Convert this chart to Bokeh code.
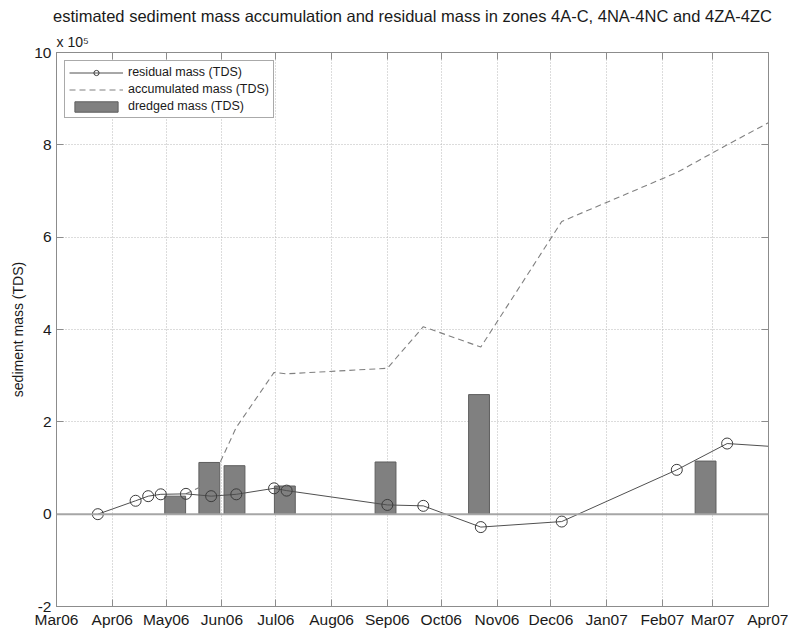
import datetime as dt
from bokeh.plotting import figure
from bokeh.models import (Range1d, LinearAxis, DatetimeAxis, MonthsTicker,
                          DatetimeTickFormatter, SingleIntervalTicker,
                          CustomJSTickFormatter, Legend, LegendItem, Span, Title)
from bokeh.embed import file_html
from bokeh.resources import INLINE

# ---------------- data ----------------
title_text = "estimated sediment mass accumulation and residual mass in zones 4A-C, 4NA-4NC and 4ZA-4ZC"
y_label = "sediment mass (TDS)"
exponent_text = "x 10\u2075"

residual_dates = ["2006-03-24", "2006-04-14", "2006-04-21", "2006-04-28", "2006-05-12",
                  "2006-05-26", "2006-06-09", "2006-06-30", "2006-07-07", "2006-09-01",
                  "2006-09-21", "2006-10-23", "2006-12-07", "2007-02-09", "2007-03-09",
                  "2007-04-13"]
residual_tds = [0, 29000, 39000, 43000, 44000,
                39000, 43000, 56000, 51000, 20000,
                18000, -28000, -16000, 96000, 153000,
                144000]

accum_dates = ["2006-05-12", "2006-05-26", "2006-06-09", "2006-06-30", "2006-07-07",
               "2006-09-01", "2006-09-21", "2006-10-23", "2006-12-07", "2007-02-09",
               "2007-03-09", "2007-04-13"]
accum_tds = [44000, 70000, 188000, 307000, 304000,
             316000, 406000, 362000, 634000, 740000,
             800000, 873000]

dredge_dates = ["2006-05-06", "2006-05-25", "2006-06-08", "2006-07-06", "2006-08-31",
                "2006-10-22", "2007-02-25"]
dredge_tds = [39000, 112000, 105000, 61000, 113000, 259000, 115000]
dredge_width_days = 11.6

x_start, x_end = "2006-03-01", "2007-04-01"
y_min, y_max, y_step = -200000, 1000000, 200000

legend_labels = ["residual mass (TDS)", "accumulated mass (TDS)", "dredged mass (TDS)"]

# ---------------- helpers ----------------
def d(s):
    return dt.datetime.strptime(s, "%Y-%m-%d")

def ms(s):
    return (d(s) - dt.datetime(1970, 1, 1)).total_seconds() * 1000.0

FONT = "Liberation Sans"
AX = "#8c8c8c"
TXT = "#1a1a1a"

p = figure(frame_width=712, frame_height=554, output_backend="svg", toolbar_location=None,
           x_axis_type="datetime",
           x_range=Range1d(ms(x_start), ms(x_end)),
           y_range=Range1d(y_min, y_max),
           min_border_left=56, min_border_right=20, min_border_top=52,
           min_border_bottom=22, background_fill_color="white",
           border_fill_color="white", outline_line_color=AX)

month_ticker = MonthsTicker(months=list(range(12)))
y_ticker = SingleIntervalTicker(interval=y_step, num_minor_ticks=0)

fmt = DatetimeTickFormatter(days="%b%y", months="%b%y", years="%b%y")

xa = p.xaxis[0]
xa.ticker = month_ticker
xa.formatter = fmt
ya = p.yaxis[0]
ya.ticker = y_ticker
ya.formatter = CustomJSTickFormatter(code="return (tick/1e5).toFixed(0);")
ya.axis_label = y_label
ya.axis_label_text_font = FONT
ya.axis_label_text_font_size = "14px"
ya.axis_label_text_font_style = "normal"
ya.axis_label_text_color = TXT
ya.axis_label_standoff = 5

for ax in (xa, ya):
    ax.axis_line_color = AX
    ax.major_tick_line_color = AX
    ax.major_tick_in = 7
    ax.major_tick_out = 0
    ax.minor_tick_line_color = None
    ax.major_label_text_font = FONT
    ax.major_label_text_font_size = "15.5px"
    ax.major_label_text_color = TXT
xa.major_label_standoff = 4
ya.major_label_standoff = 5

# mirror axes (ticks only) on right and top
ra = LinearAxis(ticker=y_ticker, formatter=CustomJSTickFormatter(code="return '';"))
ta = DatetimeAxis(ticker=month_ticker, formatter=CustomJSTickFormatter(code="return '';"))
for ax in (ra, ta):
    ax.axis_line_color = AX
    ax.major_tick_line_color = AX
    ax.major_tick_in = 7
    ax.major_tick_out = 0
    ax.minor_tick_line_color = None
    ax.major_label_standoff = 0
p.add_layout(ra, "right")
p.add_layout(ta, "above")

# exponent note (inner) and main title (outer)
p.add_layout(Title(text=exponent_text, align="left", text_font=FONT,
                   text_font_size="14px", text_font_style="normal",
                   text_color=TXT, standoff=5), "above")
p.title.text = title_text
p.title.align = "center"
p.title.text_font = FONT
p.title.text_font_size = "16.5px"
p.title.text_font_style = "normal"
p.title.text_color = TXT
p.title.standoff = 9

p.xgrid.ticker = month_ticker
p.ygrid.ticker = y_ticker
for g in (p.xgrid[0], p.ygrid[0]):
    g.grid_line_color = "#b8b8b8"
    g.grid_line_dash = "1 2"
    g.grid_line_width = 1

# zero baseline
p.add_layout(Span(location=0, dimension="width", line_color="#a6a6a6", line_width=2))

bars = p.vbar(x=[d(s) for s in dredge_dates], width=dredge_width_days * 86400000.0,
              top=dredge_tds, bottom=0, fill_color="#808080", line_color="#5e5e5e",
              line_width=1)
acc = p.line([d(s) for s in accum_dates], accum_tds, line_color="#808080",
             line_width=1.1, line_dash="6 4")
res_line = p.line([d(s) for s in residual_dates], residual_tds, line_color="#505050",
                  line_width=1)
res_pts = p.scatter([d(s) for s in residual_dates], residual_tds, marker="circle",
                    size=11, fill_color=None, line_color="#3c3c3c", line_width=1)

legend = Legend(items=[LegendItem(label=legend_labels[0], renderers=[res_line, res_pts]),
                       LegendItem(label=legend_labels[1], renderers=[acc]),
                       LegendItem(label=legend_labels[2], renderers=[bars])],
                location="top_left", margin=8, padding=4, spacing=3,
                glyph_width=54, glyph_height=13, label_height=14,
                label_standoff=5, label_text_font=FONT, label_text_font_size="12.5px",
                label_text_color=TXT, border_line_color="#555555",
                border_line_width=1, background_fill_color="white",
                background_fill_alpha=1)
p.add_layout(legend)

open("out.html", "w").write(file_html(p, INLINE))
